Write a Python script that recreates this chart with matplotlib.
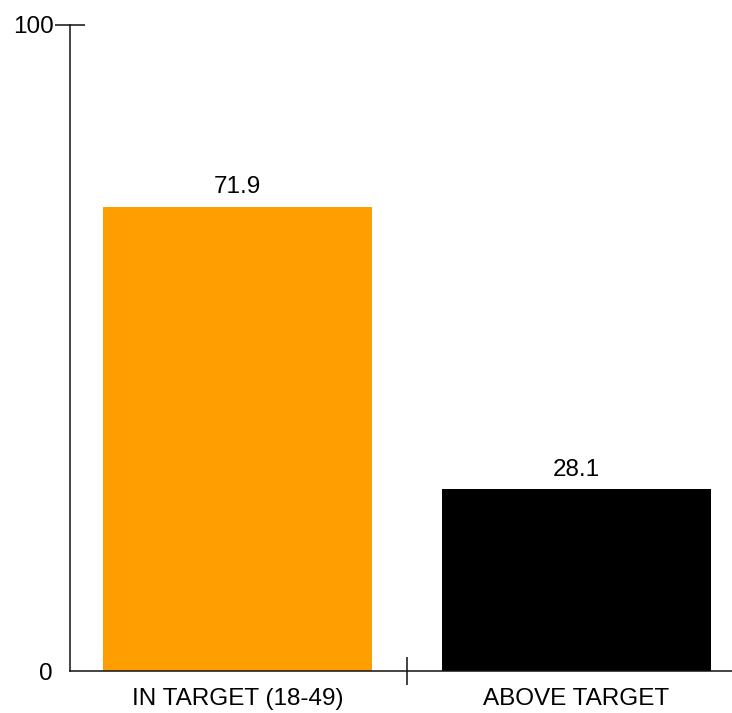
import matplotlib
matplotlib.use("Agg")
import matplotlib.pyplot as plt
from matplotlib.ticker import FixedLocator, FixedFormatter

categories = ["IN TARGET (18-49)", "ABOVE TARGET"]
values = [71.9, 28.1]
colors = ["#FF9E00", "#000000"]

plt.rcParams["font.family"] = ["Liberation Sans", "DejaVu Sans"]
FS = 17.5

fig = plt.figure(figsize=(7.32, 7.13), dpi=100)
ax = fig.add_axes([70 / 732, 1 - 671 / 713, 1 - 70 / 732, (671 - 25) / 713])

x = list(range(len(categories)))
ax.bar(x, values, width=0.795, color=colors, zorder=2)

for xi, v in zip(x, values):
    ax.annotate(f"{v:.1f}", (xi, v), xytext=(0, 6), textcoords="offset points",
                ha="center", va="bottom", fontsize=FS)

ax.set_ylim(0, 100)
ax.set_xlim(-0.495, 1.46)

for s in ("top", "right"):
    ax.spines[s].set_visible(False)
for s in ("left", "bottom"):
    ax.spines[s].set_linewidth(1.1)
    ax.spines[s].set_color("#111111")

# y axis: crossing tick at 100, bare label at 0
ax.yaxis.set_major_locator(FixedLocator([100]))
ax.yaxis.set_minor_locator(FixedLocator([0]))
ax.yaxis.set_minor_formatter(FixedFormatter(["0"]))
ax.tick_params(axis="y", which="major", direction="inout", length=21.5, width=1.1,
               pad=1, labelsize=FS, color="#111111")
ax.tick_params(axis="y", which="minor", length=0, pad=12.5, labelsize=FS)

# x axis: category labels, separator tick between categories
ax.set_xticks(x)
ax.set_xticklabels(categories)
ax.xaxis.set_minor_locator(FixedLocator([0.5]))
ax.tick_params(axis="x", which="major", length=0, pad=12, labelsize=FS)
ax.tick_params(axis="x", which="minor", direction="inout", length=20, width=1.1,
               color="#111111")

fig.savefig("out.png", dpi=100)
